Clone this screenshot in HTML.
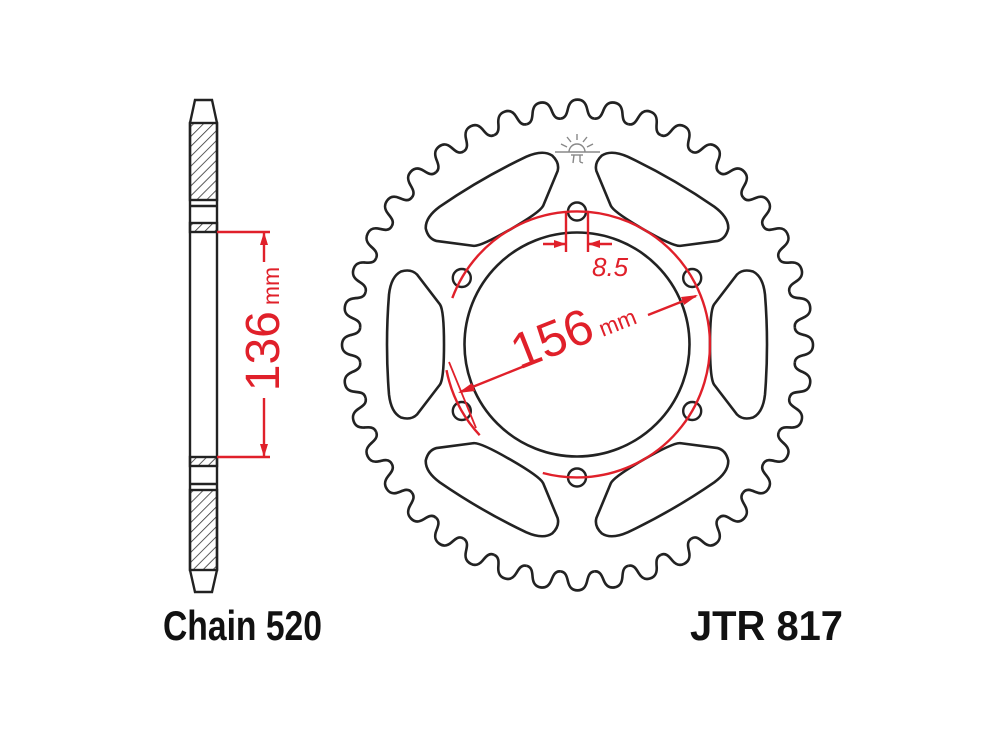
<!DOCTYPE html>
<html><head><meta charset="utf-8"><style>html,body{margin:0;padding:0;background:#fff}svg{display:block}</style></head>
<body>
<svg width="1000" height="750" viewBox="0 0 1000 750" xmlns="http://www.w3.org/2000/svg">
<defs>
<path id="t" d="M-17.1,-217.3 C-11.5,-217.5 -10.5,-223 -9.5,-227 C-8,-233 -5,-235.5 0,-235.5 C5,-235.5 8,-233 9.5,-227 C10.5,-223 11.5,-217.5 17.1,-217.3" fill="none" stroke="#222" stroke-width="2.6"/>
<path id="s" d="M137,-40 L160,-70 Q166,-76 176,-73 Q186,-68 188,-50 Q192,0 188,50 Q186,68 176,73 Q166,76 160,70 L137,40 Q133,34 133,0 Q133,-34 137,-40 Z" fill="none" stroke="#222" stroke-width="2.6"/>
<pattern id="h" width="7" height="7" patternUnits="userSpaceOnUse" patternTransform="rotate(45)"><line x1="0" y1="0" x2="0" y2="7" stroke="#333" stroke-width="1.6"/></pattern>
</defs>

<g transform="translate(577.5,345) scale(1,1.042)">
<use href="#t" transform="rotate(0)"/><use href="#t" transform="rotate(9)"/><use href="#t" transform="rotate(18)"/><use href="#t" transform="rotate(27)"/><use href="#t" transform="rotate(36)"/><use href="#t" transform="rotate(45)"/><use href="#t" transform="rotate(54)"/><use href="#t" transform="rotate(63)"/><use href="#t" transform="rotate(72)"/><use href="#t" transform="rotate(81)"/>
<use href="#t" transform="rotate(90)"/><use href="#t" transform="rotate(99)"/><use href="#t" transform="rotate(108)"/><use href="#t" transform="rotate(117)"/><use href="#t" transform="rotate(126)"/><use href="#t" transform="rotate(135)"/><use href="#t" transform="rotate(144)"/><use href="#t" transform="rotate(153)"/><use href="#t" transform="rotate(162)"/><use href="#t" transform="rotate(171)"/>
<use href="#t" transform="rotate(180)"/><use href="#t" transform="rotate(189)"/><use href="#t" transform="rotate(198)"/><use href="#t" transform="rotate(207)"/><use href="#t" transform="rotate(216)"/><use href="#t" transform="rotate(225)"/><use href="#t" transform="rotate(234)"/><use href="#t" transform="rotate(243)"/><use href="#t" transform="rotate(252)"/><use href="#t" transform="rotate(261)"/>
<use href="#t" transform="rotate(270)"/><use href="#t" transform="rotate(279)"/><use href="#t" transform="rotate(288)"/><use href="#t" transform="rotate(297)"/><use href="#t" transform="rotate(306)"/><use href="#t" transform="rotate(315)"/><use href="#t" transform="rotate(324)"/><use href="#t" transform="rotate(333)"/><use href="#t" transform="rotate(342)"/><use href="#t" transform="rotate(351)"/>
</g>

<g transform="translate(577,344.5)">
<use href="#s" transform="rotate(0)"/><use href="#s" transform="rotate(60)"/><use href="#s" transform="rotate(120)"/><use href="#s" transform="rotate(180)"/><use href="#s" transform="rotate(240)"/><use href="#s" transform="rotate(300)"/>
<ellipse cx="0" cy="0" rx="112.5" ry="112" fill="none" stroke="#222" stroke-width="2.6"/>
<g fill="none" stroke="#222" stroke-width="2.4">
<circle cx="0" cy="-133" r="9"/><circle cx="115.2" cy="-66.5" r="9"/><circle cx="115.2" cy="66.5" r="9"/><circle cx="0" cy="133" r="9"/><circle cx="-115.2" cy="66.5" r="9"/><circle cx="-115.2" cy="-66.5" r="9"/>
</g>
</g>

<g stroke="#888" stroke-width="1.4" fill="none">
<path d="M569,152 A8,8 0 0 1 585,152"/>
<line x1="555" y1="152" x2="600" y2="152"/>
<line x1="577" y1="140" x2="577" y2="134"/><line x1="571" y1="142" x2="567" y2="137"/><line x1="583" y1="142" x2="587" y2="137"/><line x1="567" y1="147" x2="561" y2="144"/><line x1="587" y1="147" x2="593" y2="144"/>
<line x1="571" y1="155" x2="583" y2="155"/><line x1="574" y1="155" x2="573" y2="163"/><line x1="580" y1="155" x2="580" y2="162"/><line x1="580" y1="162" x2="583" y2="163"/>
</g>

<g stroke="#e0202a" stroke-width="2.4" fill="none">
<path d="M452.3,298.1 A133,133 0 1 1 542.8,473"/>
<path d="M446.5,370.1 A133,133 0 0 0 479.7,435.2"/>
<line x1="449" y1="362" x2="476" y2="428" stroke-width="1.8"/>
<line x1="460" y1="392" x2="532" y2="363"/>
<line x1="648" y1="315" x2="696" y2="296"/>
<line x1="566" y1="212" x2="566" y2="252"/><line x1="588" y1="212" x2="588" y2="252"/>
<line x1="543" y1="244" x2="566" y2="244"/><line x1="588" y1="244" x2="612" y2="244"/>
</g>
<g fill="#e0202a">
<polygon points="458,393 472,383 475,391"/>
<polygon points="698,295 684,305 681,297"/>
<polygon points="566,244 554,240 554,248"/>
<polygon points="588,244 600,240 600,248"/>
</g>
<g fill="#e0202a" font-family="'Liberation Sans Narrow','Liberation Sans',sans-serif">
<text transform="translate(590,342) rotate(-21.5)" font-size="50" text-anchor="middle" x="-12">156<tspan font-size="23" dx="6">mm</tspan></text>
<text x="592" y="276" font-size="26" font-style="italic">8.5</text>
</g>

<g stroke="#222" stroke-width="2.4">
<rect x="190" y="123" width="27" height="77" fill="url(#h)"/>
<rect x="190" y="223" width="27" height="9" fill="url(#h)"/>
<rect x="190" y="457" width="27" height="9" fill="url(#h)"/>
<rect x="190" y="490" width="27" height="80" fill="url(#h)"/>
<path d="M195,100 L212,100 L217,123 L217,570 L212,592 L195,592 L190,570 L190,123 Z" fill="none"/>
<line x1="190" y1="206" x2="217" y2="206"/>
<line x1="190" y1="484" x2="217" y2="484"/>
</g>
<g stroke="#e0202a" stroke-width="2.4" fill="none">
<line x1="217" y1="232" x2="270" y2="232"/>
<line x1="217" y1="457" x2="270" y2="457"/>
<line x1="264" y1="232" x2="264" y2="262"/>
<line x1="264" y1="398" x2="264" y2="457"/>
</g>
<g fill="#e0202a">
<polygon points="264,232 260,245 268,245"/>
<polygon points="264,457 260,444 268,444"/>
<text transform="translate(279,329) rotate(-90)" font-family="'Liberation Sans Narrow','Liberation Sans',sans-serif" font-size="48" text-anchor="middle">136<tspan font-size="23" dx="6">mm</tspan></text>
</g>

<g font-family="'Liberation Sans',sans-serif" font-weight="bold" fill="#111" font-size="42">
<text x="163" y="640" textLength="159" lengthAdjust="spacingAndGlyphs">Chain 520</text>
<text x="690" y="640" textLength="153" lengthAdjust="spacingAndGlyphs">JTR 817</text>
</g>
</svg>
</body></html>
